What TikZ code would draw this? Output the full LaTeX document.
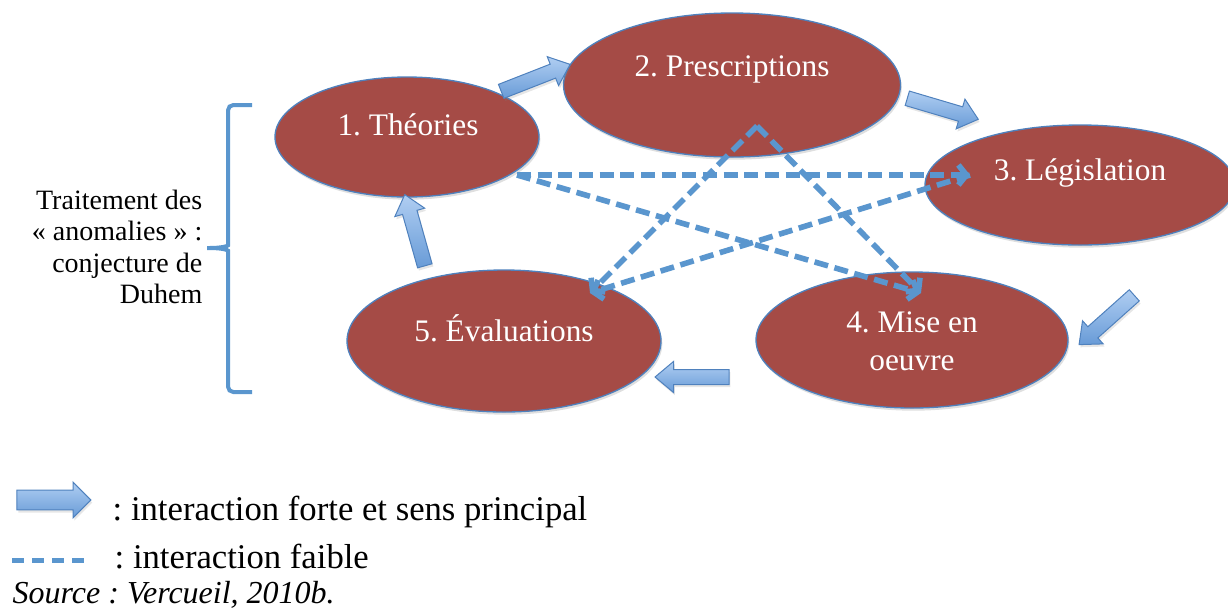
\documentclass[tikz,border=0pt]{standalone}
\usepackage{fontspec}
\setmainfont{Liberation Serif}
\usetikzlibrary{shapes.geometric,shapes.arrows,arrows.meta,shadows}
\definecolor{brique}{RGB}{165,75,70}
\definecolor{bleutrait}{RGB}{79,129,189}
\definecolor{bleuclair}{RGB}{176,206,242}
\definecolor{bleufonce}{RGB}{104,155,215}
\definecolor{bleutiret}{RGB}{90,150,206}
\frenchspacing
\begin{document}
\begin{tikzpicture}[x=0.75pt, y=-0.75pt,
    oval/.style={ellipse, draw=bleutrait, line width=1pt, fill=brique,
      drop shadow={opacity=0.25, shadow xshift=1pt, shadow yshift=-2pt}},
    txt/.style={text=white, font=\fontsize{23.5}{28.5}\selectfont, align=center},
    fleche/.style={single arrow, draw=bleutrait, line width=0.75pt,
      top color=bleuclair, bottom color=bleufonce, inner sep=5.25pt, minimum width=0pt,
      single arrow head extend=6pt, single arrow tip angle=80, minimum height=55.5pt,
      drop shadow={opacity=0.2, shadow xshift=1pt, shadow yshift=-2pt}},
    faible/.style={draw=bleutiret, line width=4.2pt, dash pattern=on 10.5pt off 5pt,
      -{Straight Barb[length=6pt, width=15pt]}},
    cote/.style={font=\fontsize{21}{23.5}\selectfont, align=right},
    legende/.style={font=\fontsize{26}{30}\selectfont}]
    \useasboundingbox (0,0) rectangle (1228,612);

    % Ellipses
    \node[oval, minimum width=198pt, minimum height=90pt] (theo) at (407,137) {};
    \node[oval, minimum width=252.75pt, minimum height=108pt] (pres) at (732,85) {};
    \node[oval, minimum width=232.5pt, minimum height=90pt] (legis) at (1080,185) {};
    \node[oval, minimum width=234pt, minimum height=102pt] (mise) at (912,340) {};
    \node[oval, minimum width=235.5pt, minimum height=106.5pt] (eval) at (504,341) {};

    % Textes des ellipses
    \node[txt] (theoTxt) at (408,125) {1. Théories};
    \node[txt] (presTxt) at (732,69) {2. Prescriptions};
    \node[txt] (legisTxt) at (1080,173) {3. Législation};
    \node[txt] (miseTxt) at (912,341) {4. Mise en\\oeuvre};
    \node[txt] (evalTxt) at (504,328) {5. Évaluations};

    % Interactions faibles
    \coordinate (theoOut) at ([shift={(110,38)}]theo.center);
    \coordinate (presApex) at ([shift={(25,41)}]pres.center);
    \coordinate (legisIn) at ([shift={(-110,-10)}]legis.center);
    \coordinate (miseIn) at ([shift={(9,-47)}]mise.center);
    \coordinate (evalIn) at ([shift={(86,-48)}]eval.center);
    \draw[faible] (theoOut) -- (legisIn);
    \draw[faible] (theoOut) -- (miseIn);
    \draw[faible] (presApex) -- (evalIn);
    \draw[faible] (presApex) -- (miseIn);
    \draw[faible] (legisIn) -- (evalIn);

    % Sens principal
    \coordinate (f12a) at (497,93);   \coordinate (f12b) at (566,66);
    \coordinate (f23a) at (903,97);   \coordinate (f23b) at (974,118);
    \coordinate (f34a) at (1138,292); \coordinate (f34b) at (1082,342);
    \coordinate (f45a) at (734,377);  \coordinate (f45b) at (659,377);
    \coordinate (f51a) at (426,270);  \coordinate (f51b) at (406,199);
    \path (f12a) -- (f12b) node[fleche, midway, sloped, allow upside down] (f12) {};
    \path (f23a) -- (f23b) node[fleche, midway, sloped, allow upside down] (f23) {};
    \path (f34a) -- (f34b) node[fleche, midway, sloped, allow upside down] (f34) {};
    \path (f45a) -- (f45b) node[fleche, midway, sloped, allow upside down] (f45) {};
    \path (f51a) -- (f51b) node[fleche, midway, sloped, allow upside down] (f51) {};

    % Conjecture de Duhem
    \draw[bleutiret, line width=3pt, rounded corners=4pt] (252,105) -- (228,105) -- (228,240)
      .. controls (228,246) and (222,248) .. (204,248)
      .. controls (222,248) and (228,250) .. (228,256) -- (228,392) -- (252,392);
    \node[cote, anchor=east] (duhem) at (207,247) {Traitement des\\«~anomalies~»~:\\conjecture de\\Duhem};

    % Legende
    \coordinate (legA) at (12,500); \coordinate (legB) at (86,500);
    \path (legA) -- (legB) node[fleche, midway, sloped, inner sep=7pt, single arrow head extend=6pt,
      single arrow tip angle=90] (legFleche) {};
    \coordinate (legC) at (12,560); \coordinate (legD) at (84,560);
    \draw[faible, -, line width=3.75pt, dash pattern=on 9pt off 6pt] (legC) -- (legD);
    \node[legende, anchor=base west] (forte) at (108,520) {: interaction forte et sens principal};
    \node[legende, anchor=base west] (faibleTxt) at (110,568) {: interaction faible};
    \node[legende, anchor=base west, font=\fontsize{24}{28}\selectfont\itshape] (source) at (8,603) {Source : Vercueil, 2010b.};
\end{tikzpicture}
\end{document}
